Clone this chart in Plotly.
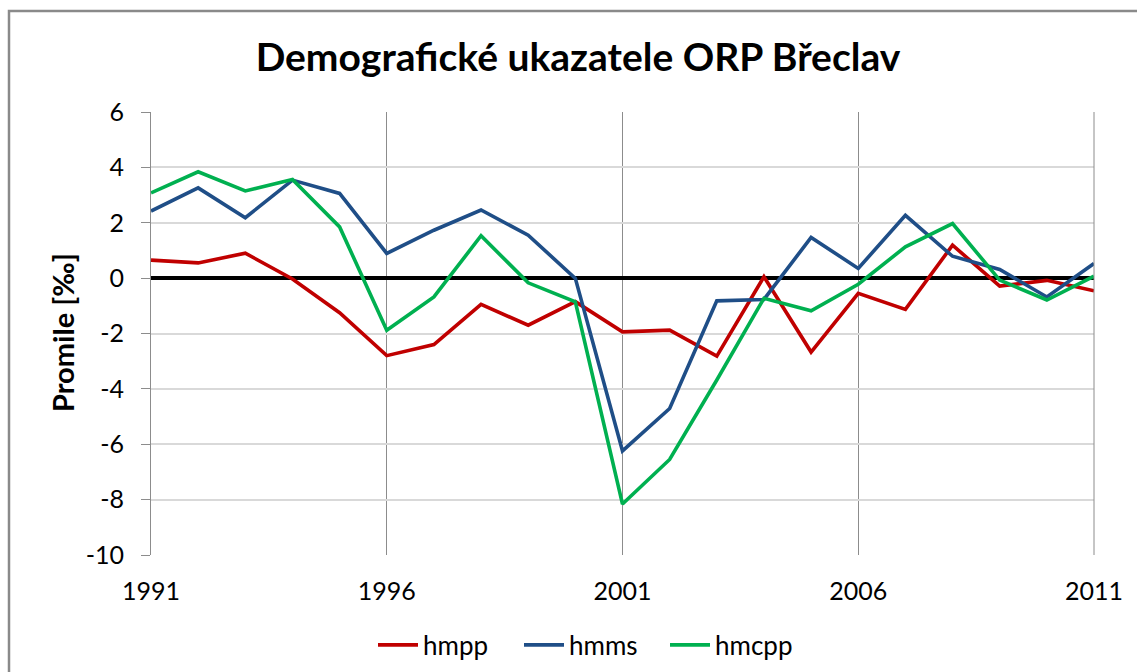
import plotly.graph_objects as go

years = list(range(1991, 2012))
hmpp = [0.65, 0.55, 0.90, -0.03, -1.25, -2.80, -2.40, -0.95, -1.70, -0.85,
        -1.94, -1.88, -2.82, 0.05, -2.67, -0.55, -1.13, 1.19, -0.29, -0.08, -0.46]
hmms = [2.42, 3.26, 2.18, 3.54, 3.06, 0.89, 1.73, 2.46, 1.55, -0.01,
        -6.24, -4.71, -0.82, -0.77, 1.47, 0.35, 2.27, 0.79, 0.31, -0.68, 0.53]
hmcpp = [3.08, 3.84, 3.15, 3.56, 1.85, -1.88, -0.68, 1.53, -0.17, -0.86,
         -8.16, -6.55, -3.68, -0.73, -1.18, -0.22, 1.13, 1.97, -0.07, -0.79, 0.07]
series_names = ["hmpp", "hmms", "hmcpp"]
series_colors = ["#C00000", "#1F4E87", "#00B050"]
x_ticks = [1991, 1996, 2001, 2006, 2011]
y_ticks = [-10, -8, -6, -4, -2, 0, 2, 4, 6]
y_tick_labels = ["-10", "-8", "-6", "-4", "-2", "0", "2", "4", "6"]

title_text = "Demografické ukazatele ORP Břeclav"
y_title = "Promile [‰]"

W, H = 1137, 672
L, R, T, B = 151, 43, 112, 117
PW, PH = W - L - R, H - T - B


def px_x(p):
    return (p - L) / PW


def px_y(p):
    return (H - B - p) / PH


FONT = "Lato, 'Open Sans', sans-serif"

fig = go.Figure()
for name, vals, col in zip(series_names, [hmpp, hmms, hmcpp], series_colors):
    fig.add_trace(go.Scatter(x=years, y=vals, mode="lines", name=name,
                             line=dict(color=col, width=3.6)))

fig.update_layout(
    width=W, height=H,
    margin=dict(l=L, r=R, t=T, b=B, autoexpand=False),
    paper_bgcolor="white", plot_bgcolor="white",
    font=dict(family=FONT, color="#000000", size=25),
    title=dict(text="<b>" + title_text + "</b>", x=578 / W, xanchor="center",
               y=1 - 57 / H, yanchor="middle",
               font=dict(family=FONT, size=39, color="#000000")),
    showlegend=True,
    legend=dict(orientation="h", x=px_x(373), xanchor="left",
                y=px_y(645), yanchor="middle",
                font=dict(family=FONT, size=26), itemwidth=40,
                entrywidth=91, entrywidthmode="pixels",
                tracegroupgap=0, bgcolor="rgba(0,0,0,0)"),
    xaxis=dict(range=[1991, 2011], tickvals=x_ticks, showgrid=True,
               gridcolor="#8C8C8C", gridwidth=1, zeroline=False,
               showline=False, ticks="", ticklabelstandoff=19,
               automargin=False,
               tickfont=dict(family=FONT, size=25)),
    yaxis=dict(range=[-10, 6], tickvals=y_ticks, ticktext=y_tick_labels,
               showgrid=True, gridcolor="#D9D9D9", gridwidth=1.5, zeroline=True,
               zerolinecolor="#000000", zerolinewidth=3.5,
               showline=True, linecolor="#8C8C8C", linewidth=1,
               ticks="outside", ticklen=9, tickcolor="#8C8C8C",
               ticklabelstandoff=12, automargin=False,
               tickfont=dict(family=FONT, size=25)),
)

# right edge gridline (2011) and chart border
fig.add_shape(type="line", xref="paper", yref="paper", x0=1, x1=1, y0=0, y1=1,
              line=dict(color="#8C8C8C", width=1))
fig.add_shape(type="rect", xref="paper", yref="paper",
              x0=px_x(9), x1=px_x(1160), y0=px_y(700), y1=px_y(11),
              line=dict(color="#8A8A8A", width=2.5), layer="below")

fig.add_annotation(text="<b>" + y_title + "</b>", xref="paper", yref="paper",
                   x=px_x(62), y=px_y(333), textangle=-90, showarrow=False,
                   xanchor="center", yanchor="middle",
                   font=dict(family=FONT, size=29, color="#000000"))

fig.write_html(
    "out.html",
    config={"displayModeBar": False},
    post_script="document.documentElement.style.margin='0';"
                "document.body.style.margin='0';"
                "document.body.style.overflow='hidden';",
)
